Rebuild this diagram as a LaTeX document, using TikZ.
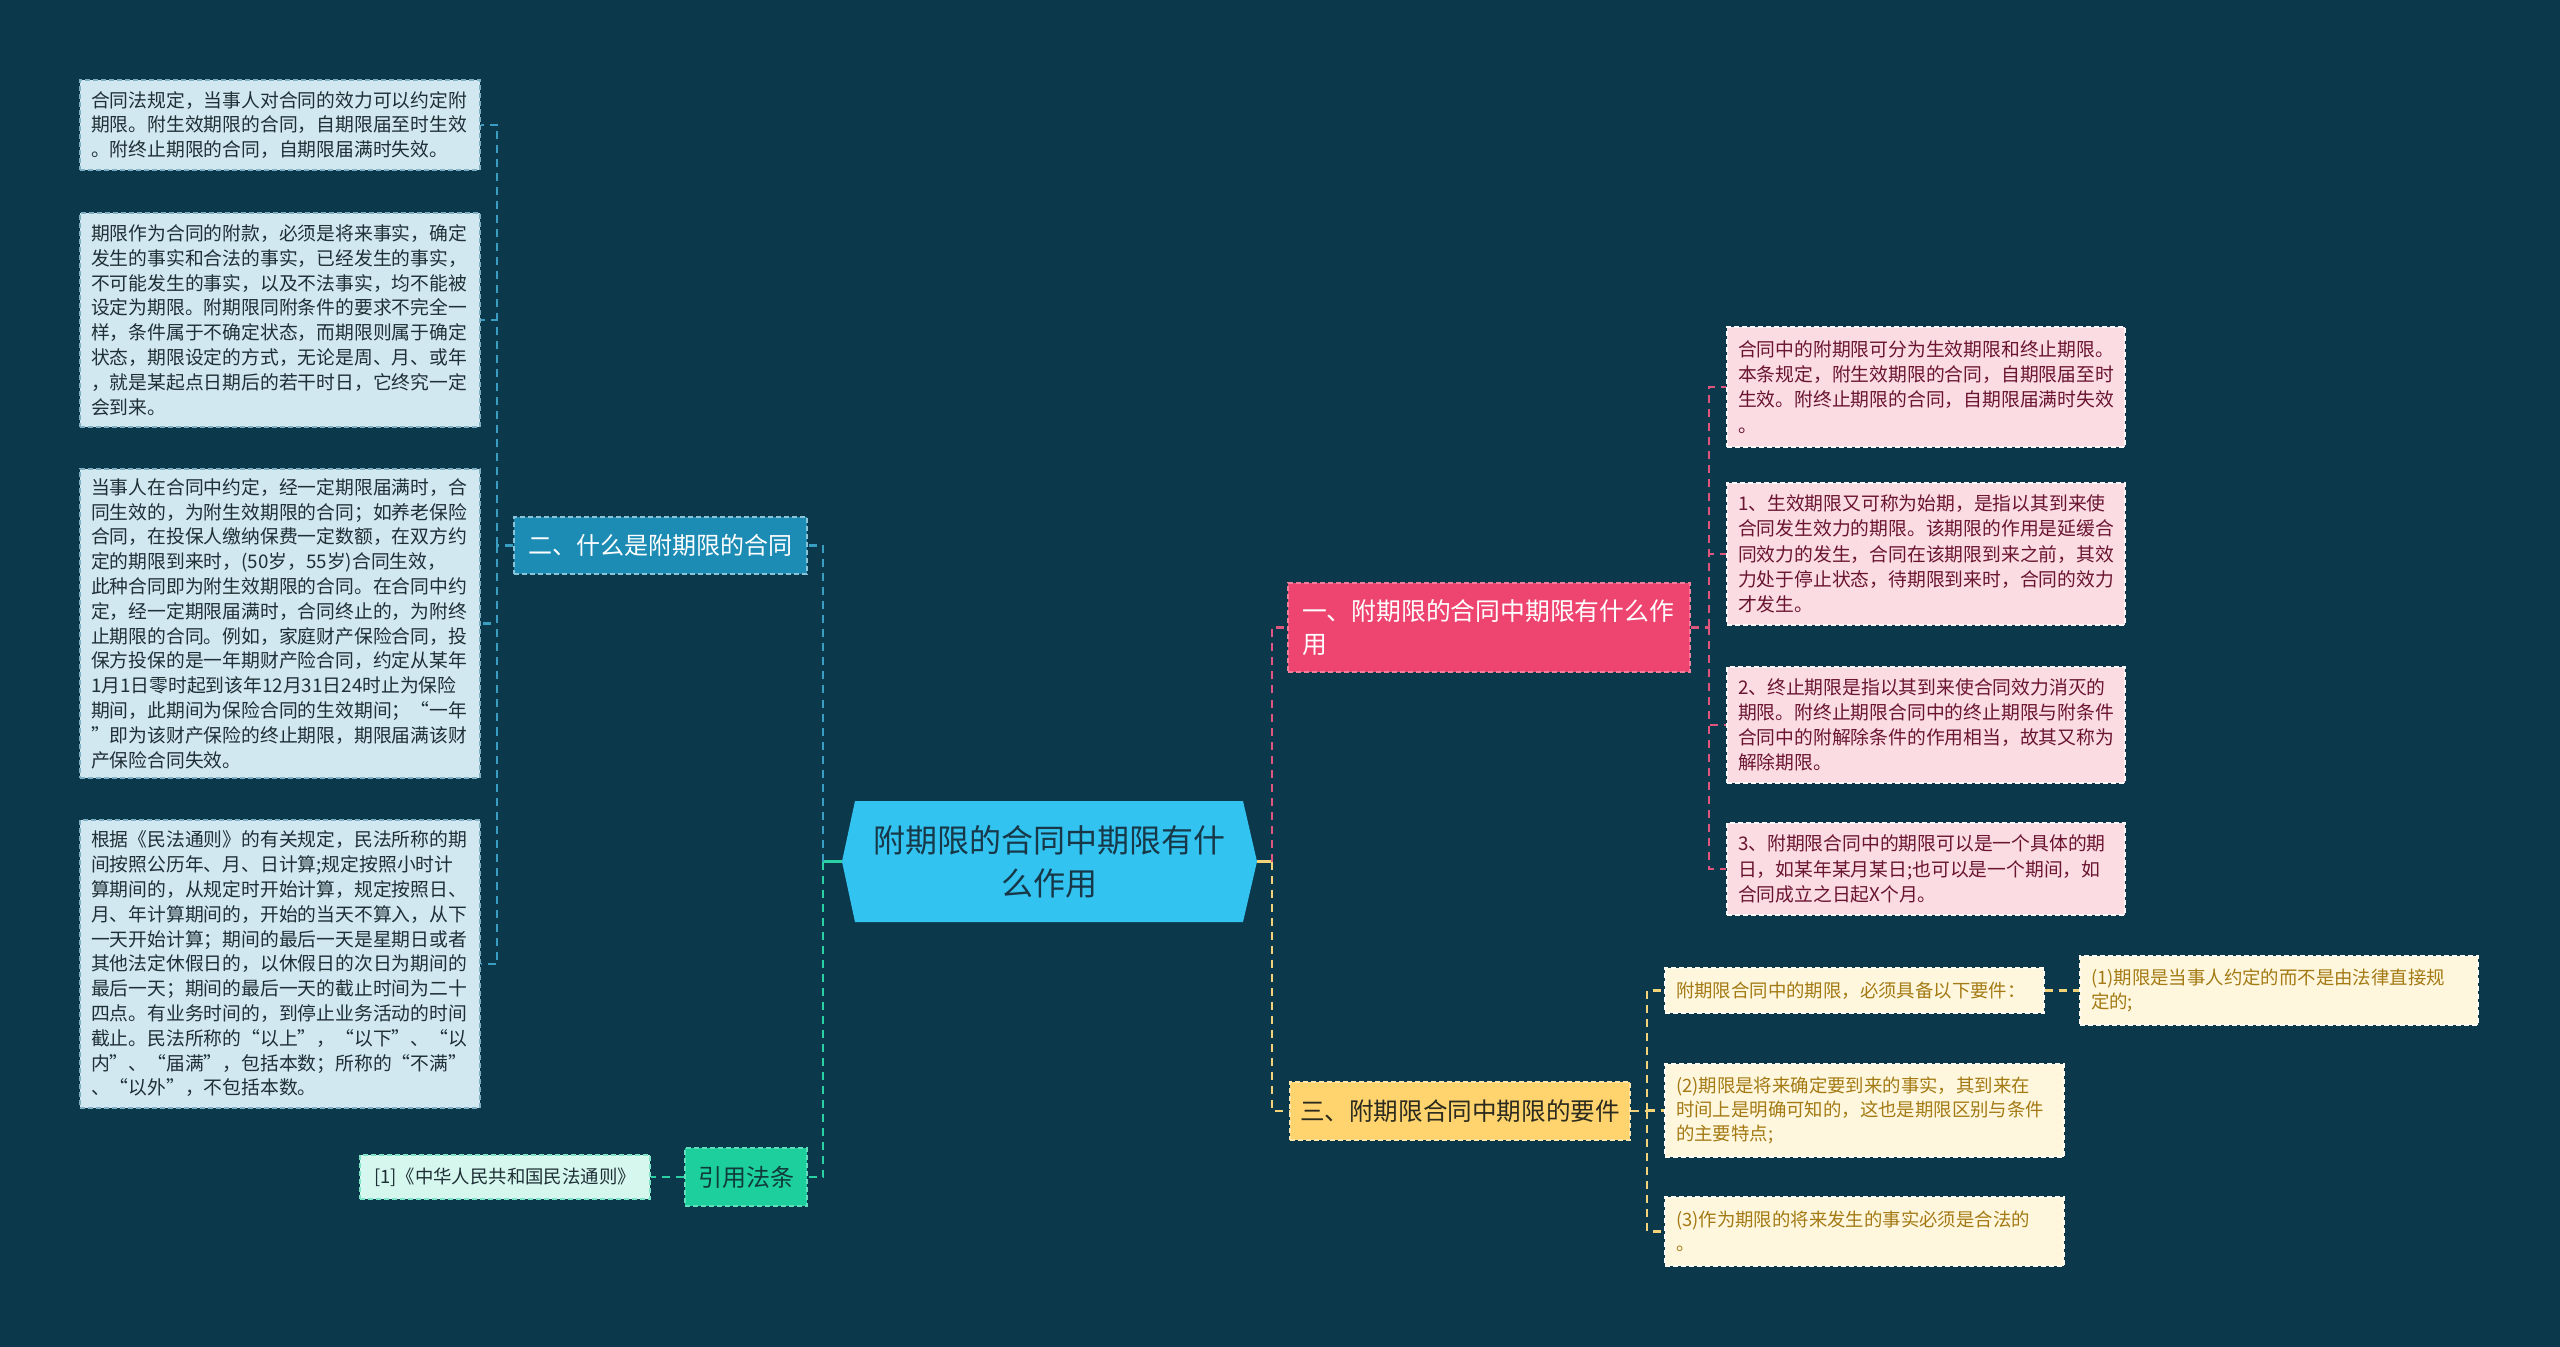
\documentclass[tikz,border=0pt]{standalone}
\usepackage{fontspec}
\setmainfont{Noto Sans CJK SC}
\definecolor{bg}{HTML}{0C384C}
\definecolor{cfill}{HTML}{33C3F0}
\definecolor{ctext}{HTML}{173848}
\definecolor{lfill}{HTML}{D2E8F0}
\definecolor{lline}{HTML}{7FAFC2}
\definecolor{ltext}{HTML}{1F2F36}
\definecolor{bline}{HTML}{3A9DC2}
\definecolor{ntwofill}{HTML}{1D8CB5}
\definecolor{gfill}{HTML}{1ECF9E}
\definecolor{gtext}{HTML}{0F3B3A}
\definecolor{reffill}{HTML}{D6F7EE}
\definecolor{gline}{HTML}{2AD1A4}
\definecolor{pfill}{HTML}{EE4570}
\definecolor{rfill}{HTML}{FBDCE2}
\definecolor{rtext}{HTML}{6A1530}
\definecolor{pline}{HTML}{E0557E}
\definecolor{yfill}{HTML}{FFD46E}
\definecolor{ytxt}{HTML}{2B2A1E}
\definecolor{ybfill}{HTML}{FFF7DD}
\definecolor{ybtext}{HTML}{A37A14}
\definecolor{yline}{HTML}{F3D37A}
\begin{document}
\begin{tikzpicture}[x=0.5pt,y=-0.5pt,
  conn/.style={line width=1.1pt, dash pattern=on 4pt off 3pt},
  solidconn/.style={line width=1.1pt},
  boxbase/.style={rectangle, line width=0.6pt, dash pattern=on 2.5pt off 1.5pt, align=left, inner xsep=5.5pt, inner ysep=0pt},
  lbox/.style={boxbase, fill=lfill, draw=lline, text=ltext, text width=189pt, minimum height=#1, font=\fontsize{9.4}{12.4}\selectfont},
  rbox/.style={boxbase, fill=rfill, draw=white!85!rfill, text=rtext, text width=188pt, minimum height=#1, font=\fontsize{9.4}{12.6}\selectfont},
  ybox/.style 2 args={boxbase, fill=ybfill, draw=white!70!ybfill, text=ybtext, text width=#1, minimum height=#2, font=\fontsize{9.2}{12.2}\selectfont},
  midbox/.style={rectangle, line width=0.6pt, dash pattern=on 2.5pt off 1.5pt, inner sep=0pt, align=center}
]
\useasboundingbox (0,0) rectangle (2560,1347);
\fill[bg] (0,0) rectangle (2560,1347);

% ---- left detail boxes
\node[lbox=45pt] (l1) at (280,125) {合同法规定，当事人对合同的效力可以约定附\\期限。附生效期限的合同，自期限届至时生效\\。附终止期限的合同，自期限届满时失效。};
\node[lbox=107pt] (l2) at (280,320) {期限作为合同的附款，必须是将来事实，确定\\发生的事实和合法的事实，已经发生的事实，\\不可能发生的事实，以及不法事实，均不能被\\设定为期限。附期限同附条件的要求不完全一\\样，条件属于不确定状态，而期限则属于确定\\状态，期限设定的方式，无论是周、月、或年\\，就是某起点日期后的若干时日，它终究一定\\会到来。};
\node[lbox=154.5pt] (l3) at (280,623.5) {当事人在合同中约定，经一定期限届满时，合\\同生效的，为附生效期限的合同；如养老保险\\合同，在投保人缴纳保费一定数额，在双方约\\定的期限到来时，(50岁，55岁)合同生效，\\此种合同即为附生效期限的合同。在合同中约\\定，经一定期限届满时，合同终止的，为附终\\止期限的合同。例如，家庭财产保险合同，投\\保方投保的是一年期财产险合同，约定从某年\\1月1日零时起到该年12月31日24时止为保险\\期间，此期间为保险合同的生效期间；“一年\\”即为该财产保险的终止期限，期限届满该财\\产保险合同失效。};
\node[lbox=144pt] (l4) at (280,964) {根据《民法通则》的有关规定，民法所称的期\\间按照公历年、月、日计算;规定按照小时计\\算期间的，从规定时开始计算，规定按照日、\\月、年计算期间的，开始的当天不算入，从下\\一天开始计算；期间的最后一天是星期日或者\\其他法定休假日的，以休假日的次日为期间的\\最后一天；期间的最后一天的截止时间为二十\\四点。有业务时间的，到停止业务活动的时间\\截止。民法所称的“以上”，“以下”、“以\\内”、“届满”，包括本数；所称的“不满”\\、“以外”，不包括本数。};

% ---- left branch nodes
\node[midbox, fill=ntwofill, draw=bline!60!white, text=white, minimum width=146.5pt, minimum height=28.5pt, font=\fontsize{12}{14}\selectfont] (n2) at (660.5,545.5) {二、什么是附期限的合同};
\node[midbox, fill=gfill, draw=gfill!70!white, text=gtext, minimum width=61pt, minimum height=29pt, font=\fontsize{12}{14}\selectfont] (g) at (746,1177) {引用法条};
\node[midbox, fill=reffill, draw=gline!60!white, text=ltext, minimum width=145pt, minimum height=22pt, font=\fontsize{9.2}{11}\selectfont] (ref) at (505,1177) {[1]《中华人民共和国民法通则》};

% ---- centre
\fill[cfill] (842,861.5) -- (855,801) -- (1243,801) -- (1257,861.5) -- (1243,922) -- (855,922) -- cycle;
\node[align=center, inner sep=0pt, minimum width=207.5pt, minimum height=60.5pt, text=ctext, font=\fontsize{16}{21.5}\selectfont] (c) at (1049.5,861.5) {附期限的合同中期限有什\\么作用};

% ---- right branch nodes
\node[midbox, align=left, fill=pfill, draw=pfill!70!white, text=white, text width=187pt, inner xsep=7pt, minimum height=44.5pt, font=\fontsize{12.4}{16.5}\selectfont] (n1) at (1489,627.5) {一、附期限的合同中期限有什么作\\用};
\node[midbox, fill=yfill, draw=yfill!60!white, text=ytxt, minimum width=170pt, minimum height=29pt, font=\fontsize{12.3}{14}\selectfont] (n3) at (1460,1111) {三、附期限合同中期限的要件};

\node[rbox=60pt] (r1) at (1926,387) {合同中的附期限可分为生效期限和终止期限。\\本条规定，附生效期限的合同，自期限届至时\\生效。附终止期限的合同，自期限届满时失效\\。};
\node[rbox=71pt] (r2) at (1926,554) {1、生效期限又可称为始期，是指以其到来使\\合同发生效力的期限。该期限的作用是延缓合\\同效力的发生，合同在该期限到来之前，其效\\力处于停止状态，待期限到来时，合同的效力\\才发生。};
\node[rbox=58pt] (r3) at (1926,725) {2、终止期限是指以其到来使合同效力消灭的\\期限。附终止期限合同中的终止期限与附条件\\合同中的附解除条件的作用相当，故其又称为\\解除期限。};
\node[rbox=46pt] (r4) at (1926,869) {3、附期限合同中的期限可以是一个具体的期\\日，如某年某月某日;也可以是一个期间，如\\合同成立之日起X个月。};

\node[ybox={178.5pt}{22.5pt}] (y1) at (1854.5,990.5) {附期限合同中的期限，必须具备以下要件：};
\node[ybox={188pt}{34.5pt}] (y1a) at (2279,990.5) {(1)期限是当事人约定的而不是由法律直接规\\定的;};
\node[ybox={188.5pt}{46.5pt}] (y2) at (1864.5,1110.5) {(2)期限是将来确定要到来的事实，其到来在\\时间上是明确可知的，这也是期限区别与条件\\的主要特点;};
\node[ybox={188.5pt}{34.5pt}] (y3) at (1864.5,1231.5) {(3)作为期限的将来发生的事实必须是合法的\\。};

% ---- connectors
\coordinate (lt) at (823,861.5);
\coordinate (lt2) at (497,545.5);
\coordinate (rt) at (1272,861.5);
\coordinate (rt1) at (1709,627.5);
\coordinate (rt3) at (1647,1111);

\draw[gline, solidconn] (c.west) -- (lt);
\draw[bline, conn] (lt) |- (n2.east);
\draw[gline, conn] (lt) |- (g.east);
\draw[gline, conn] (g.west) -- (ref.east);
\draw[bline, conn] (n2.west) -- (lt2);
\foreach \n in {l1,l2,l3,l4} \draw[bline, conn] (lt2) |- (\n.east);

\draw[yline, solidconn] (c.east) -- (rt);
\draw[pline, conn] (rt) |- (n1.west);
\draw[yline, conn] (rt) |- (n3.west);
\draw[pline, conn] (n1.east) -- (rt1);
\foreach \n in {r1,r2,r3,r4} \draw[pline, conn] (rt1) |- (\n.west);
\draw[yline, conn] (n3.east) -- (rt3);
\foreach \n in {y1,y2,y3} \draw[yline, conn] (rt3) |- (\n.west);
\draw[yline, conn] (y1.east) -- (y1a.west);
\end{tikzpicture}
\end{document}
